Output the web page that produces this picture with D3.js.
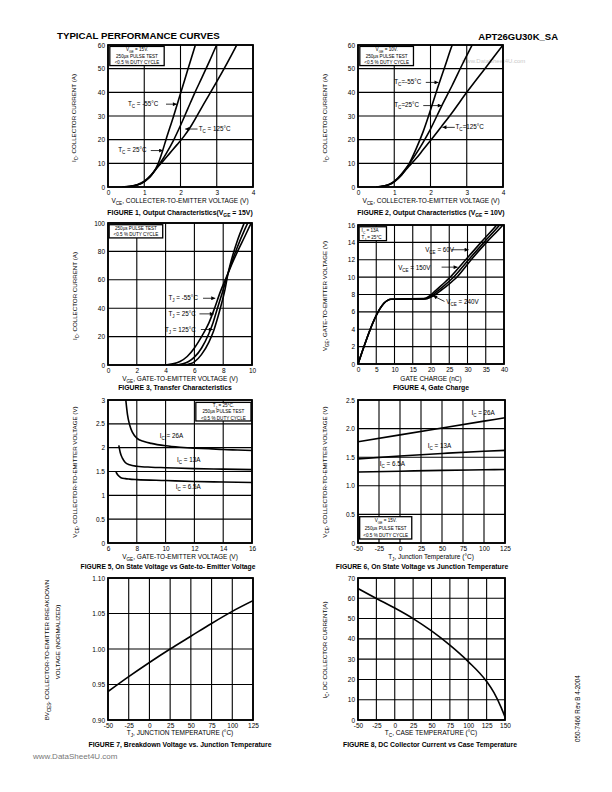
<!DOCTYPE html>
<html><head><meta charset="utf-8">
<script src="https://cdn.jsdelivr.net/npm/d3@7"></script>
<style>
body{margin:0;background:#fff;}
svg{display:block;}
</style></head><body>
<svg id="page" width="612" height="792"></svg>
<script>
const FONT = '"Liberation Sans", Arial, Helvetica, sans-serif';

// ---------------- DATA ----------------
// Figure 1 : Output characteristics VGE = 15V
const f1XTicks = [0, 1, 2, 3, 4];
const f1YTicks = [0, 10, 20, 30, 40, 50, 60];
const f1Tm55 = [[0.4,0],[0.6,0.2],[0.8,0.8],[1.0,2.2],[1.1,3.4],[1.2,5],[1.3,7.2],[1.4,10.5],[1.5,15],[1.6,20],[1.8,29.5],[2.0,39.5],[2.2,49.5],[2.4,59.5],[2.44,61.5]];
const f1T25 = [[0.4,0],[0.6,0.3],[0.8,1],[1.0,2.5],[1.2,5.3],[1.35,8.2],[1.5,11.5],[1.6,14],[1.8,19.5],[2.0,26],[2.2,33],[2.4,40],[2.6,46.5],[2.8,53.2],[3.0,60],[3.05,61.5]];
const f1T125 = [[0.45,0],[0.7,0.4],[0.9,1.4],[1.0,2.3],[1.2,5.2],[1.35,8],[1.5,10.6],[1.7,14.2],[1.9,17.8],[2.1,21.5],[2.3,26],[2.6,34],[3.0,44.5],[3.5,58.5],[3.6,61.5]];

// Figure 2 : Output characteristics VGE = 10V
const f2XTicks = [0, 1, 2, 3, 4];
const f2YTicks = [0, 10, 20, 30, 40, 50, 60];
const f2Tm55 = [[0.5,0],[0.7,0.3],[0.9,1.2],[1.0,2.2],[1.2,5],[1.4,9.5],[1.6,16],[1.8,23.5],[2.0,32.5],[2.2,42],[2.4,51],[2.6,60],[2.64,61.5]];
const f2T25 = [[0.5,0],[0.7,0.4],[0.9,1.4],[1.0,2.4],[1.2,5.5],[1.4,9.5],[1.6,14],[1.8,19],[2.0,24.5],[2.3,34],[2.6,43],[2.9,52.5],[3.15,60],[3.2,61.5]];
const f2T125 = [[0.5,0],[0.7,0.4],[0.9,1.4],[1.0,2.4],[1.2,5.2],[1.4,8.7],[1.6,12],[1.8,15.8],[2.0,19.6],[2.3,25.5],[2.6,31.5],[3.0,40],[3.5,50],[4.0,60]];

// Figure 3 : Transfer characteristics
const f3XTicks = [0, 2, 4, 6, 8, 10];
const f3YTicks = [0, 20, 40, 60, 80, 100];
const f3Tm55 = [[4.0,0],[4.5,0.8],[5,2.5],[5.5,6],[6,12],[6.5,20],[7,29.5],[7.4,40],[7.8,51.5],[8.1,59],[8.35,65],[8.6,71],[9,80],[9.5,90.5],[9.9,99],[10,101]];
const f3T25 = [[4.8,0],[5.2,0.8],[5.6,2.5],[6,5.5],[6.5,12],[7,22],[7.3,30],[7.6,40],[8,53],[8.35,65],[8.6,72.5],[9,83.5],[9.5,95.5],[9.75,101]];
const f3T125 = [[5.4,0],[5.7,0.8],[6,2.2],[6.5,7.5],[7,16],[7.3,23],[7.55,31],[7.8,40],[8.1,52],[8.35,65],[8.6,75],[9,88],[9.4,98.5],[9.5,101]];

// Figure 4 : Gate charge
const f4XTicks = [0, 5, 10, 15, 20, 25, 30, 35, 40];
const f4YTicks = [0, 2, 4, 6, 8, 10, 12, 14, 16];
const f4V60 = [[0,0],[8,7.3],[9,7.45],[18,7.5],[19.5,7.8],[21,8.35],[23,9.1],[25.5,10.1],[29.5,12],[33.7,14],[38,16],[38.5,16.25]];
const f4V150 = [[0,0],[8,7.3],[9,7.45],[18.5,7.5],[20,7.8],[21.5,8.3],[23.7,9.05],[26.3,10.05],[30.3,12],[34.5,14],[38.8,16],[39.3,16.25]];
const f4V240 = [[0,0],[8,7.3],[9,7.45],[19,7.55],[20.5,7.8],[22,8.25],[24.5,9.05],[27.2,10.05],[31,12],[35.2,14],[39.7,16],[40,16.15]];

// Figure 5 : On-state voltage vs gate-emitter voltage
const f5XTicks = [6, 8, 10, 12, 14, 16];
const f5YTicks = [0, 0.5, 1, 1.5, 2, 2.5, 3];
const f5I26 = [[7.22,3.05],[7.35,2.7],[7.5,2.48],[7.7,2.32],[8,2.2],[8.5,2.13],[9,2.09],[10,2.04],[11,2.01],[12,1.99],[13,1.98],[14,1.96],[15,1.95],[16,1.94]];
const f5I13 = [[6.75,2.05],[6.85,1.9],[7,1.78],[7.2,1.69],[7.5,1.64],[8,1.61],[9,1.59],[10,1.58],[12,1.56],[14,1.55],[16,1.54]];
const f5I65 = [[6.55,1.49],[6.7,1.42],[6.9,1.37],[7.2,1.35],[7.5,1.34],[8,1.33],[10,1.31],[12,1.29],[14,1.28],[16,1.27]];

// Figure 6 : On-state voltage vs junction temperature
const f6XTicks = [-50, -25, 0, 25, 50, 75, 100, 125];
const f6YTicks = [0, 0.5, 1.0, 1.5, 2.0, 2.5];
const f6I26 = [[-50,1.77],[0,1.89],[50,2.01],[100,2.13],[125,2.19]];
const f6I13 = [[-50,1.47],[0,1.52],[50,1.565],[100,1.605],[125,1.62]];
const f6I65 = [[-50,1.24],[0,1.255],[50,1.27],[100,1.28],[125,1.285]];

// Figure 7 : Breakdown voltage vs junction temperature
const f7XTicks = [-50, -25, 0, 25, 50, 75, 100, 125];
const f7YTicks = [0.90, 0.95, 1.00, 1.05, 1.10];
const f7BV = [[-50,0.94],[-25,0.961],[0,0.981],[25,1.0],[50,1.018],[75,1.036],[100,1.053],[125,1.068]];

// Figure 8 : DC collector current vs case temperature
const f8XTicks = [-50, -25, 0, 25, 50, 75, 100, 125, 150];
const f8YTicks = [0, 10, 20, 30, 40, 50, 60, 70];
const f8IC = [[-50,64.8],[-25,59.9],[0,55.2],[25,50],[50,43.9],[75,36.9],[100,28.8],[125,19],[135,13.5],[145,6],[150,1.5]];

// ---------------- DRAWING ----------------
const svg = d3.select('#page');
svg.append('rect').attr('width',612).attr('height',792).attr('fill','#fff');
const defs = svg.append('defs');
defs.append('marker').attr('id','ah').attr('viewBox','0 0 10 10').attr('refX',10).attr('refY',5)
  .attr('markerWidth',6).attr('markerHeight',5).attr('orient','auto')
  .append('path').attr('d','M0,0 L10,5 L0,10 z').attr('fill','#000');

function rich(sel, str, size) {
  const re = /_\{([^}]*)\}/g;
  const segs = []; let last = 0, m;
  while ((m = re.exec(str))) {
    if (m.index > last) segs.push([str.slice(last, m.index), false]);
    segs.push([m[1], true]); last = re.lastIndex;
  }
  if (last < str.length) segs.push([str.slice(last), false]);
  const d = size * 0.32; let prevSub = false;
  segs.forEach(s => {
    const t = sel.append('tspan').text(s[0]);
    if (s[1]) { t.attr('font-size', size * 0.72).attr('dy', d); prevSub = true; }
    else if (prevSub) { t.attr('dy', -d); prevSub = false; }
  });
  return sel;
}
function txt(x, y, str, o = {}) {
  const size = o.size || 6.5;
  const t = svg.append('text').attr('x', x).attr('y', y).attr('font-family', FONT)
    .attr('font-size', size).attr('text-anchor', o.anchor || 'start')
    .attr('font-weight', o.bold ? 'bold' : 'normal').attr('fill', o.fill || '#000');
  if (o.rotate) t.attr('transform', `rotate(${o.rotate},${x},${y})`);
  return rich(t, str, size);
}

let clipN = 0;
function panel(o) {
  const x = d3.scaleLinear().domain(o.xd).range([o.l, o.r]);
  const y = d3.scaleLinear().domain(o.yd).range([o.b, o.t]);
  const g = svg.append('g');
  g.selectAll(null).data(o.xt).join('line')
    .attr('x1', d => x(d)).attr('x2', d => x(d)).attr('y1', o.t).attr('y2', o.b)
    .attr('stroke', '#000').attr('stroke-width', 1.1);
  g.selectAll(null).data(o.yt).join('line')
    .attr('y1', d => y(d)).attr('y2', d => y(d)).attr('x1', o.l).attr('x2', o.r)
    .attr('stroke', '#000').attr('stroke-width', 1.1);
  const ax = g.append('g').attr('transform', `translate(0,${o.b})`)
    .call(d3.axisBottom(x).tickValues(o.xt).tickFormat(o.xf).tickSize(0).tickPadding(3));
  ax.select('.domain').remove();
  ax.attr('font-family', FONT).attr('font-size', 6.5);
  const ay = g.append('g').attr('transform', `translate(${o.l},0)`)
    .call(d3.axisLeft(y).tickValues(o.yt).tickFormat(o.yf).tickSize(0).tickPadding(3));
  ay.select('.domain').remove();
  ay.attr('font-family', FONT).attr('font-size', 6.5);
  const id = 'clip' + (clipN++);
  defs.append('clipPath').attr('id', id).append('rect')
    .attr('x', o.l).attr('y', o.t).attr('width', o.r - o.l).attr('height', o.b - o.t);
  const line = d3.line().x(d => x(d[0])).y(d => y(d[1])).curve(d3.curveMonotoneX);
  o.series.forEach(s => g.append('path').datum(s).attr('clip-path', `url(#${id})`)
    .attr('d', line).attr('fill', 'none').attr('stroke', '#000').attr('stroke-width', 1.6));
  g.append('rect').attr('x', o.l).attr('y', o.t).attr('width', o.r - o.l).attr('height', o.b - o.t)
    .attr('fill', 'none').attr('stroke', '#000').attr('stroke-width', 1.8);
  return { x, y };
}
function box(p, x0, y0, x1, y1, lines, anchor) {
  const X0 = p.x(x0), X1 = p.x(x1), Y0 = p.y(y0), Y1 = p.y(y1);
  svg.append('rect').attr('x', X0).attr('y', Y0).attr('width', X1 - X0).attr('height', Y1 - Y0)
    .attr('fill', '#fff').attr('stroke', '#000').attr('stroke-width', 1.3);
  const lh = (Y1 - Y0) / lines.length;
  lines.forEach((s, i) => {
    const tx = anchor === 'start' ? X0 + 2.5 : (X0 + X1) / 2;
    txt(tx, Y0 + lh * (i + 1) - lh * 0.22, s, { size: 4.6, anchor: anchor || 'middle' });
  });
}
function arrow(p, xa, ya, xb, yb) {
  svg.append('line').attr('x1', p.x(xa)).attr('y1', p.y(ya)).attr('x2', p.x(xb)).attr('y2', p.y(yb))
    .attr('stroke', '#000').attr('stroke-width', 0.8).attr('marker-end', 'url(#ah)');
}
function lab(p, xv, yv, str, o) { return txt(p.x(xv), p.y(yv), str, o); }

const intF = d => String(d);
const CAP = 6.85;

// Header / footer
txt(57, 39, 'TYPICAL PERFORMANCE CURVES', { size: 9.7, bold: true });
txt(558, 40, 'APT26GU30K_SA', { size: 9.5, bold: true, anchor: 'end' });
txt(462, 63, 'www.DataSheet4U.com', { size: 6, fill: '#c8c8c8' });
txt(33, 759, 'www.DataSheet4U.com', { size: 8, fill: '#777' });
txt(580, 742, '050-7466   Rev   B    4-2004', { size: 6.3, rotate: -90 });

// ---- Figure 1
const p1 = panel({ xd: [0, 4], yd: [0, 60], l: 108, r: 253, t: 45, b: 187,
  xt: f1XTicks, yt: f1YTicks, xf: intF, yf: intF, series: [f1Tm55, f1T25, f1T125] });
box(p1, 0.05, 59.4, 1.55, 51.3, ['V_{GE} = 15V.', '250µs PULSE TEST', '<0.5 % DUTY CYCLE']);
lab(p1, 0.55, 34.2, 'T_{C} = -55°C', { size: 6.3 });
arrow(p1, 1.6, 35, 1.9, 35);
lab(p1, 2.5, 23.7, 'T_{C} = 125°C', { size: 6.3 });
arrow(p1, 2.47, 24.5, 2.13, 24.5);
lab(p1, 0.28, 14.6, 'T_{C} = 25°C', { size: 6.3 });
arrow(p1, 1.18, 15.4, 1.52, 15.4);
txt(76, 118, 'I_{C}, COLLECTOR CURRENT (A)', { size: 6.2, anchor: 'middle', rotate: -90 });
txt(180, 203, 'V_{CE}, COLLECTER-TO-EMITTER VOLTAGE (V)', { size: 6.5, anchor: 'middle' });
txt(180, 215, 'FIGURE 1, Output Characteristics(V_{GE} = 15V)', { size: CAP, bold: true, anchor: 'middle' });

// ---- Figure 2
const p2 = panel({ xd: [0, 4], yd: [0, 60], l: 358, r: 503, t: 45, b: 187,
  xt: f2XTicks, yt: f2YTicks, xf: intF, yf: intF, series: [f2Tm55, f2T25, f2T125] });
box(p2, 0.05, 59.4, 1.53, 51.3, ['V_{GE} = 10V.', '250µs PULSE TEST', '<0.5 % DUTY CYCLE']);
lab(p2, 1.0, 43.4, 'T_{C}=-55°C', { size: 6.3 });
arrow(p2, 1.87, 44.2, 2.22, 44.2);
lab(p2, 1.0, 33.6, 'T_{C}=25°C', { size: 6.3 });
arrow(p2, 1.8, 34.4, 2.31, 34.4);
lab(p2, 2.69, 24.4, 'T_{C}=125°C', { size: 6.3 });
arrow(p2, 2.67, 25.2, 2.33, 25.2);
txt(327, 118, 'I_{C}, COLLECTOR CURRENT (A)', { size: 6.2, anchor: 'middle', rotate: -90 });
txt(431, 203, 'V_{CE}, COLLECTER-TO-EMITTER VOLTAGE (V)', { size: 6.5, anchor: 'middle' });
txt(431, 215, 'FIGURE 2, Output Characteristics (V_{GE} = 10V)', { size: CAP, bold: true, anchor: 'middle' });

// ---- Figure 3
const p3 = panel({ xd: [0, 10], yd: [0, 100], l: 108, r: 252, t: 223, b: 365,
  xt: f3XTicks, yt: f3YTicks, xf: intF, yf: intF, series: [f3Tm55, f3T25, f3T125] });
box(p3, 0.08, 98.8, 3.8, 89.5, ['250µs PULSE TEST', '<0.5 % DUTY CYCLE']);
lab(p3, 4.2, 45.5, 'T_{J} = -55°C', { size: 6.3 });
arrow(p3, 6.6, 47, 7.45, 47);
lab(p3, 4.2, 34.5, 'T_{J} = 25°C', { size: 6.3 });
arrow(p3, 6.35, 36, 7.35, 36);
lab(p3, 3.95, 23.5, 'T_{J} = 125°C', { size: 6.3 });
arrow(p3, 6.45, 25, 7.28, 25);
txt(77, 296, 'I_{C}, COLLECTOR CURRENT (A)', { size: 6.2, anchor: 'middle', rotate: -90 });
txt(180, 381, 'V_{GE}, GATE-TO-EMITTER VOLTAGE (V)', { size: 6.5, anchor: 'middle' });
txt(175, 390, 'FIGURE 3, Transfer Characteristics', { size: CAP, bold: true, anchor: 'middle' });

// ---- Figure 4
const p4 = panel({ xd: [0, 40], yd: [0, 16], l: 358, r: 504, t: 225, b: 364,
  xt: f4XTicks, yt: f4YTicks, xf: intF, yf: intF, series: [f4V60, f4V150, f4V240] });
box(p4, 0.3, 15.8, 7.8, 14.2, ['I_{C} = 13A', 'T_{J} = 25°C'], 'start');
lab(p4, 18.4, 12.85, 'V_{CE} = 60V', { size: 6.3 });
arrow(p4, 25.6, 13.15, 30.3, 13.15);
lab(p4, 11.0, 10.85, 'V_{CE} = 150V', { size: 6.3 });
arrow(p4, 22.9, 11.15, 27.3, 11.15);
lab(p4, 24.2, 6.9, 'V_{CE} = 240V', { size: 6.3 });
arrow(p4, 23.7, 7.2, 20.6, 7.85);
txt(327, 296, 'V_{GE}, GATE-TO-EMITTER VOLTAGE (V)', { size: 6.2, anchor: 'middle', rotate: -90 });
txt(431, 381, 'GATE  CHARGE (nC)', { size: 6.5, anchor: 'middle' });
txt(431, 390, 'FIGURE 4, Gate  Charge', { size: CAP, bold: true, anchor: 'middle' });

// ---- Figure 5
const f5F = d => String(d);
const p5 = panel({ xd: [6, 16], yd: [0, 3], l: 108, r: 252, t: 400, b: 543,
  xt: f5XTicks, yt: f5YTicks, xf: intF, yf: f5F, series: [f5I26, f5I13, f5I65] });
box(p5, 12.1, 2.95, 15.93, 2.56, ['T_{J} = 25°C.', '250µs PULSE TEST', '<0.5 % DUTY CYCLE']);
lab(p5, 9.6, 2.2, 'I_{C} = 26A', { size: 6.3 });
lab(p5, 10.8, 1.69, 'I_{C} = 13A', { size: 6.3 });
lab(p5, 10.7, 1.13, 'I_{C} = 6.5A', { size: 6.3 });
txt(77, 472, 'V_{CE}, COLLECTOR-TO-EMITTER VOLTAGE (V)', { size: 6.2, anchor: 'middle', rotate: -90 });
txt(180, 559, 'V_{GE}, GATE-TO-EMITTER VOLTAGE (V)', { size: 6.5, anchor: 'middle' });
txt(168, 569, 'FIGURE 5,  On  State Voltage vs Gate-to- Emitter Voltage', { size: 6.7, bold: true, anchor: 'middle' });

// ---- Figure 6
const f6F = d => d === 0 ? '0' : d.toFixed(1);
const p6 = panel({ xd: [-50, 125], yd: [0, 2.5], l: 358, r: 505, t: 400, b: 543,
  xt: f6XTicks, yt: f6YTicks, xf: intF, yf: f6F, series: [f6I26, f6I13, f6I65] });
box(p6, -48, 0.46, 14, 0.07, ['V_{GE} = 15V.', '250µs PULSE TEST', '<0.5 % DUTY CYCLE']);
lab(p6, 85, 2.24, 'I_{C} = 26A', { size: 6.3 });
lab(p6, 33, 1.66, 'I_{C} = 13A', { size: 6.3 });
lab(p6, -24, 1.35, 'I_{C} = 6.5A', { size: 6.3 });
txt(327, 472, 'V_{CE}, COLLECTOR-TO-EMITTER VOLTAGE (V)', { size: 6.2, anchor: 'middle', rotate: -90 });
txt(431, 559, 'T_{J}, Junction Temperature (°C)', { size: 6.5, anchor: 'middle' });
txt(422, 569, 'FIGURE 6, On State Voltage vs Junction Temperature', { size: CAP, bold: true, anchor: 'middle' });

// ---- Figure 7
const f7F = d => d.toFixed(2);
const p7 = panel({ xd: [-50, 125], yd: [0.9, 1.1], l: 108, r: 253, t: 578, b: 720,
  xt: f7XTicks, yt: f7YTicks, xf: intF, yf: f7F, series: [f7BV] });
txt(49, 650, 'BV_{CES}, COLLECTOR-TO-EMITTER BREAKDOWN', { size: 6.2, anchor: 'middle', rotate: -90 });
txt(60, 642, 'VOLTAGE  (NORMALIZED)', { size: 6.2, anchor: 'middle', rotate: -90 });
txt(180, 735, 'T_{J}, JUNCTION TEMPERATURE (°C)', { size: 6.5, anchor: 'middle' });
txt(180, 747, 'FIGURE 7, Breakdown Voltage  vs. Junction Temperature', { size: CAP, bold: true, anchor: 'middle' });

// ---- Figure 8
const p8 = panel({ xd: [-50, 150], yd: [0, 70], l: 358, r: 505, t: 578, b: 720,
  xt: f8XTicks, yt: f8YTicks, xf: intF, yf: intF, series: [f8IC] });
txt(327, 650, 'I_{C}, DC  COLLECTOR  CURRENT(A)', { size: 6.2, anchor: 'middle', rotate: -90 });
txt(431, 735, 'T_{C}, CASE TEMPERATURE (°C)', { size: 6.5, anchor: 'middle' });
txt(430, 747, 'FIGURE 8, DC Collector Current vs Case Temperature', { size: CAP, bold: true, anchor: 'middle' });
</script>
</body></html>
